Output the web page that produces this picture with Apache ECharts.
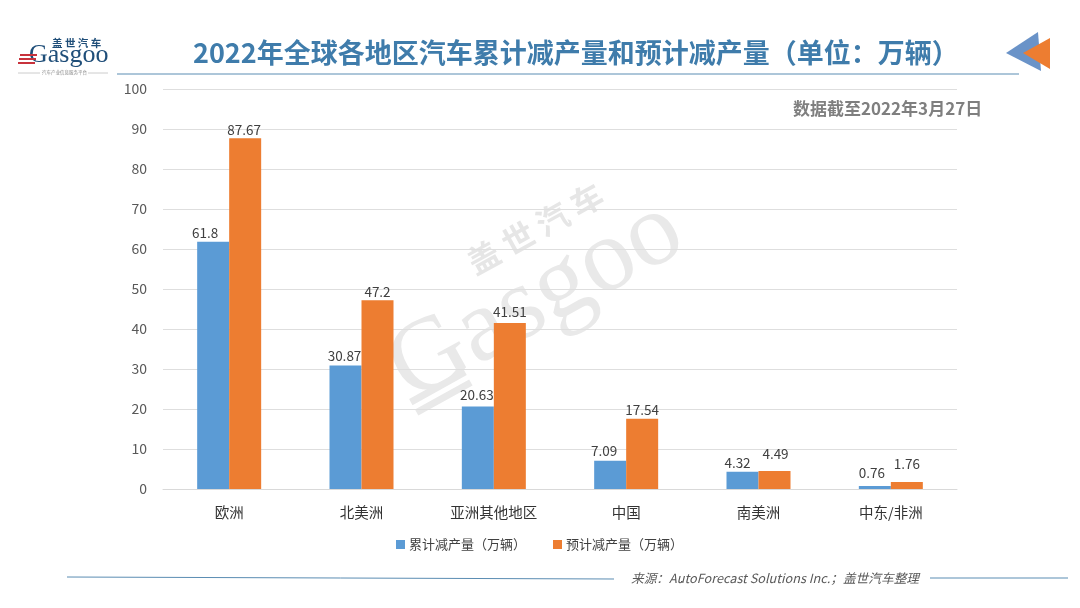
<!DOCTYPE html>
<html>
<head>
<meta charset="utf-8">
<style>
html, body { margin: 0; padding: 0; background: #fff; }
#main { width: 1080px; height: 608px; }
</style>
<script src="https://cdn.jsdelivr.net/npm/echarts@6/dist/echarts.min.js"></script>
</head>
<body>
<div id="main"></div>
<script>
var categories = ['欧洲', '北美洲', '亚洲其他地区', '中国', '南美洲', '中东/非洲'];
var cumulative = [61.8, 30.87, 20.63, 7.09, 4.32, 0.76];
var forecast = [87.67, 47.2, 41.51, 17.54, 4.49, 1.76];
var seriesNames = ['累计减产量（万辆）', '预计减产量（万辆）'];

// 标签在原图里是手动摆放的，这里单独记偏移
var cumulativeLabelShift = [[-8, 0], [-1, -1], [-1, -3], [-6, -1], [-5, 0], [-3, -4]];
var forecastLabelShift = [[-1, 0], [0, 0], [0, -2], [0, 0], [1, -8], [0, -9]];

var cjk = '"Noto Sans CJK SC", "Noto Sans", sans-serif';
var myChart = echarts.init(document.getElementById('main'));

function barSeries(name, data, color, shift) {
    return {
        name: name,
        type: 'bar',
        barWidth: 32,
        barGap: 0,
        itemStyle: { color: color },
        data: data.map(function (item, i) {
            return { value: item, label: { offset: shift[i] } };
        }),
        label: {
            show: true,
            position: 'top',
            distance: 2,
            color: '#404040',
            fontSize: 13.5,
            fontFamily: cjk
        }
    };
}

var option = {
    backgroundColor: '#fff',
    animation: false,
    grid: { left: 163, right: 123, top: 89, bottom: 119 },
    legend: {
        left: 391,
        top: 533,
        itemWidth: 9,
        itemHeight: 9,
        itemGap: 27,
        icon: 'rect',
        textStyle: { color: '#404040', fontSize: 13, fontFamily: cjk, padding: [0, 0, 0, -1] }
    },
    xAxis: {
        type: 'category',
        data: categories,
        axisTick: { show: false },
        axisLine: { lineStyle: { color: '#d9d9d9' } },
        axisLabel: { color: '#333333', fontSize: 14.5, margin: 16, fontFamily: cjk }
    },
    yAxis: {
        type: 'value',
        min: 0,
        max: 100,
        interval: 10,
        axisLine: { show: false },
        axisTick: { show: false },
        splitLine: { lineStyle: { color: '#dedede' } },
        axisLabel: { color: '#595959', fontSize: 14, margin: 16, fontFamily: cjk }
    },
    series: [
        barSeries(seriesNames[0], cumulative, '#5b9bd5', cumulativeLabelShift),
        barSeries(seriesNames[1], forecast, '#ed7d31', forecastLabelShift)
    ],
    graphic: [
        // 水印
        {
            type: 'group', x: 413, y: 406, rotation: 29 * Math.PI / 180, z: 0, silent: true,
            children: [
                { type: 'text', x: 0, y: -84, style: { text: 'Gasgoo', fill: '#e9e9e9', font: '104px "Liberation Serif"' } },
                { type: 'text', x: 118, y: -112, style: { text: '盖 世 汽 车', fill: '#e6e6e6', font: 'bold 32px ' + cjk } },
                { type: 'rect', shape: { x: 0, y: -8, width: 62, height: 7 }, style: { fill: '#e9e9e9' } },
                { type: 'rect', shape: { x: 0, y: 4, width: 62, height: 7 }, style: { fill: '#e9e9e9' } }
            ]
        },
        // 标题
        {
            type: 'text', left: 193, top: 39,
            style: { text: '2022年全球各地区汽车累计减产量和预计减产量（单位：万辆）', fill: '#3f7cab', font: 'bold 27px ' + cjk }
        },
        { type: 'line', shape: { x1: 117, y1: 74, x2: 1019, y2: 74 }, style: { stroke: '#5b8db3', lineWidth: 1 } },
        { type: 'polygon', shape: { points: [[1006, 53], [1038, 32], [1041, 71]] }, style: { fill: '#6a93c8' } },
        { type: 'polygon', shape: { points: [[1023, 53], [1050, 38], [1050, 69]] }, style: { fill: '#ed7d31' } },
        // 日期
        {
            type: 'text', left: 793, top: 100,
            style: { text: '数据截至2022年3月27日', fill: '#7f7f7f', font: 'bold 17px ' + cjk }
        },
        // logo
        { type: 'text', left: 52, top: 38, style: { text: '盖 世 汽 车', fill: '#1f4e79', font: 'bold 10.5px ' + cjk } },
        { type: 'text', left: 29, top: 42, style: { text: 'Gasgoo', fill: '#1f4e79', font: '26px "Liberation Serif"' } },
        { type: 'rect', shape: { x: 20, y: 54, width: 17, height: 2 }, style: { fill: '#c8323c' } },
        { type: 'rect', shape: { x: 19, y: 58, width: 17, height: 2 }, style: { fill: '#c8323c' } },
        { type: 'rect', shape: { x: 18, y: 62, width: 17, height: 2 }, style: { fill: '#c8323c' } },
        { type: 'line', shape: { x1: 18, y1: 73, x2: 40, y2: 73 }, style: { stroke: '#cccccc', lineWidth: 1 } },
        { type: 'line', shape: { x1: 88, y1: 73, x2: 108, y2: 73 }, style: { stroke: '#cccccc', lineWidth: 1 } },
        { type: 'text', left: 42, top: 70, style: { text: '汽车产业信息服务平台', fill: '#888888', font: '4.5px ' + cjk } },
        // 底部来源
        { type: 'line', shape: { x1: 67, y1: 577, x2: 614, y2: 579 }, style: { stroke: '#5b8db3', lineWidth: 1 } },
        { type: 'line', shape: { x1: 930, y1: 578, x2: 1068, y2: 578 }, style: { stroke: '#5b8db3', lineWidth: 1 } },
        {
            type: 'text', left: 631, top: 572,
            style: { text: '来源：AutoForecast Solutions Inc.；盖世汽车整理', fill: '#595959', font: 'italic 12.7px ' + cjk }
        }
    ]
};
myChart.setOption(option);
</script>
</body>
</html>
